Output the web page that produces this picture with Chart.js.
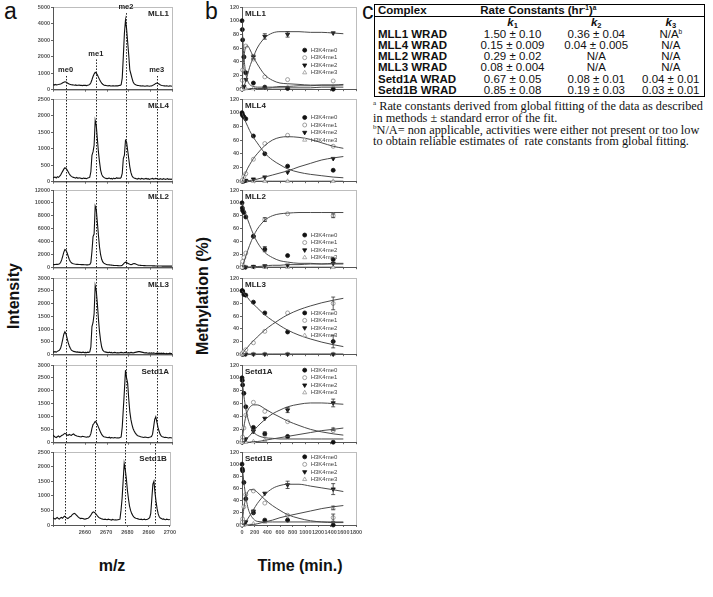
<!DOCTYPE html>
<html>
<head>
<meta charset="utf-8">
<script src="https://cdn.jsdelivr.net/npm/chart.js@4.4.0/dist/chart.umd.min.js"></script>
<style>
  body { margin: 0; background: #fff; width: 713px; height: 597px; position: relative; overflow: hidden;
         font-family: "Liberation Sans", Arial, sans-serif; color: #111; }
  canvas { position: absolute; }
  .txt { position: absolute; white-space: nowrap; }
  .letter { font-size: 23px; line-height: 23px; }
  .axt { font-weight: bold; font-size: 16px; transform: translate(-50%, -50%); }
  .rot { transform: translate(-50%, -50%) rotate(-90deg); }
  #rates { position: absolute; left: 374px; top: 4px; width: 331px; border-collapse: collapse;
           border: 1px solid #000; font-size: 11.5px; line-height: 11.3px; }
  #rates td { padding: 0 3px; white-space: nowrap; text-align: center; }
  #rates td.name { text-align: left; font-weight: bold; }
  #rates tr.hd td { font-weight: bold; border-bottom: 1px solid #000; text-align: left; }
  #rates sup { font-size: 6.5px; line-height: 0; vertical-align: 4px; }
  #rates sub { font-size: 7.5px; line-height: 0; vertical-align: -2px; }
  #notes { position: absolute; left: 373px; top: 101px; font-family: "Liberation Serif", serif;
           font-size: 12.3px; line-height: 11.8px; white-space: nowrap; }
  #notes sup { font-size: 7px; line-height: 0; }
</style>
</head>
<body>

<div class="txt letter" style="left:4px;top:0px;">a</div>
<div class="txt letter" style="left:205px;top:0px;">b</div>
<div class="txt letter" style="left:362px;top:0px;">c</div>
<div class="txt axt rot" style="left:14px;top:296px;">Intensity</div>
<div class="txt axt rot" style="left:203px;top:296px;">Methylation (%)</div>
<div class="txt axt" style="left:112px;top:566px;">m/z</div>
<div class="txt axt" style="left:300px;top:566px;">Time (min.)</div>

<table id="rates"></table>
<div id="notes">
<sup>a</sup> Rate constants derived from global fitting of the data as described<br>
in methods ± standard error of the fit.<br>
<sup>b</sup>N/A= non applicable, activities were either not present or too low<br>
to obtain reliable estimates of &nbsp;rate constants from global fitting.
</div>

<script>
// ---- panel a: mass spectra, m/z 2645..2700 every 0.5 ----
var MZ_START = 2645, MZ_STEP = 0.5;
var PEAK_MZ = [2650.8, 2664.8, 2678.7, 2692.9];
var PEAK_NAMES = ['me0', 'me1', 'me2', 'me3'];
var ENZYMES = ['MLL1', 'MLL4', 'MLL2', 'MLL3', 'Setd1A', 'Setd1B'];
var SPEC_MAX = [5000, 2500, 12000, 3000, 3000, 2500];
var SPEC_STEP = [1000, 500, 2000, 500, 500, 500];

var SPEC_MLL1 = [
  300,280,320,290,300,310,330,350,380,420,
  450,480,460,420,380,340,320,300,290,280,
  270,290,260,270,280,260,270,250,260,270,
  260,250,270,280,320,420,600,800,950,1050,
  1000,900,760,620,500,400,330,290,260,250,
  240,230,250,230,220,240,230,220,230,240,
  230,250,260,300,700,2000,3400,4200,3700,2900,
  2100,1200,950,700,480,360,310,280,260,250,
  240,230,220,230,220,210,220,230,220,210,
  220,230,250,290,330,380,400,380,340,300,
  270,250,240,230,220,230,220,210,230,220,210];
var SPEC_MLL4 = [
  120,130,140,110,150,130,160,200,260,320,
  380,420,400,360,300,240,190,160,140,130,
  120,110,130,100,120,110,100,90,110,100,
  100,90,110,120,140,300,800,900,1100,1850,
  1700,1300,900,600,350,220,160,130,110,100,
  90,100,110,90,100,80,110,90,100,120,
  100,110,100,130,250,700,800,1250,1200,950,
  700,450,280,180,130,110,100,90,80,100,
  90,80,100,90,80,90,100,80,90,70,
  80,90,100,80,90,100,90,80,70,90,
  80,70,90,80,70,80,90,70,80,70,80];
var SPEC_MLL2 = [
  500,480,500,520,510,530,600,800,1200,1800,
  2400,2800,2700,2300,1800,1300,950,750,650,600,
  560,540,520,510,500,490,480,470,470,460,
  450,440,430,450,500,800,2500,4800,5200,9500,
  9000,7000,5000,3200,2000,1300,900,700,600,520,
  480,460,440,420,400,380,360,350,340,330,
  320,310,300,320,380,550,750,850,800,700,
  600,520,480,500,600,650,600,520,450,400,
  380,360,340,330,320,320,310,300,300,300,
  290,290,280,280,280,270,270,270,260,260,
  260,250,250,250,250,240,240,240,240,240,240];
var SPEC_MLL3 = [
  100,110,120,100,130,150,180,250,400,600,
  800,900,820,650,480,350,250,180,150,130,
  120,110,100,110,90,100,80,90,100,80,
  90,80,100,90,110,300,1100,1250,1600,2700,
  2500,2000,1400,900,550,300,180,130,110,100,
  90,80,100,80,90,70,80,90,80,70,
  80,70,80,90,80,70,80,90,80,70,
  80,70,90,80,70,80,90,100,110,120,
  120,110,100,90,80,70,80,70,60,70,
  60,70,60,70,60,50,60,50,60,50,
  60,50,60,50,40,50,40,50,60,50,40];
var SPEC_SETD1A = [
  300,250,220,200,230,260,220,240,280,300,
  330,360,340,300,280,320,300,280,320,340,
  300,280,260,250,240,230,220,250,240,230,
  220,210,230,220,250,350,550,700,750,820,
  780,700,600,500,400,320,260,230,220,210,
  200,190,210,180,200,190,180,200,190,180,
  190,180,200,220,600,1300,2000,2800,2500,2300,
  1700,1200,900,700,550,450,380,320,280,260,
  250,230,220,210,200,220,210,200,190,210,
  220,240,320,600,900,1000,800,600,450,330,
  260,230,220,200,210,200,190,180,200,190,180];
var SPEC_SETD1B = [
  250,220,200,230,260,220,200,240,260,230,
  280,300,260,240,220,250,280,300,350,380,
  400,380,340,300,260,240,220,230,220,210,
  200,210,220,230,260,300,360,420,450,430,
  400,350,300,260,240,220,210,200,190,200,
  190,180,200,190,180,170,190,180,170,180,
  170,180,190,200,500,900,1500,2100,1900,1600,
  1200,900,650,500,400,330,280,250,230,220,
  210,200,190,200,180,190,200,180,190,200,
  220,250,400,900,1400,1500,1100,800,550,380,
  280,240,220,200,210,190,180,200,190,180,190];
var SPECTRA = [SPEC_MLL1, SPEC_MLL4, SPEC_MLL2, SPEC_MLL3, SPEC_SETD1A, SPEC_SETD1B];

// ---- panel b: time courses ----
var SERIES = ['H3K4me0', 'H3K4me1', 'H3K4me2', 'H3K4me3'];
var TIMES = [0, 5, 10, 30, 60, 180, 360, 720, 1440];
var FIT_T = [0, 15, 30, 60, 90, 120, 180, 240, 360, 480, 600, 720, 900, 1080, 1260, 1440, 1600];

var MLL1_PTS = [
  [100, 87, 72, 47, 24, 9, 3, 1, 0],
  [0, 13, 28, 47, 63, 44, 18, 14, 12],
  [0, 0, 1, 4, 14, 47, 77, 80, 82],
  [0, 0, 0, 1, 1, 1, 2, 3, 3]];
var MLL1_ERR = [
  [0,0,0,0,0,0,0,0,0], [0,0,0,0,0,0,0,0,0], [0,0,0,0,0,3,4,4,0], [0,0,0,0,0,0,0,0,0]];
var MLL1_FIT = [
  [100,69,47,23,12,7,4,3,3,3,4,4,5,5,6,6,7],
  [0,29,46,62,63,59,47,37,21,13,9,8,7,6,6,6,6],
  [0,1,4,12,22,32,47,60,75,82,84,84,84,83,83,82,81],
  [0,0,0,0,0,1,1,1,1,2,2,2,2,2,3,3,3]];

var MLL4_PTS = [
  [100, 98, 96, 94, 91, 66, 40, 22, 16],
  [0, 1, 2, 7, 11, 32, 55, 67, 51],
  [0, 0, 0, 0, 1, 3, 6, 13, 33],
  [0, 0, 0, 0, 0, 0, 0, 0, 0]];
var MLL4_ERR = [
  [0,0,0,0,0,0,0,0,0], [0,0,0,0,0,0,0,0,0], [0,0,0,0,0,0,0,0,0], [0,0,0,0,0,0,0,0,0]];
var MLL4_FIT = [
  [100,96,93,86,80,74,64,56,41,31,24,18,13,10,8,6,5],
  [0,3,7,13,19,24,33,40,52,60,64,65,64,61,56,51,48],
  [0,0,0,0,1,1,2,3,6,9,12,15,21,26,31,34,36],
  [0,0,0,0,0,0,0,0,0,0,0,0,0,0,0,0,0]];

var MLL2_PTS = [
  [100, 92, 88, 85, 78, 48, 28, 18, 12],
  [0, 5, 9, 15, 22, 48, 74, 83, 80],
  [0, 0, 0, 0, 0, 1, 2, 3, 6],
  [0, 0, 0, 0, 0, 0, 0, 0, 0]];
var MLL2_ERR = [
  [0,0,0,0,0,0,4,0,0], [0,0,0,0,0,0,3,0,3], [0,0,0,0,0,0,0,0,0], [0,0,0,0,0,0,0,0,0]];
var MLL2_FIT = [
  [100,96,92,83,74,66,51,39,23,15,10,8,6,6,5,5,5],
  [0,4,8,17,26,34,48,59,73,80,83,84,85,85,85,85,85],
  [0,0,0,0,0,0,1,1,2,3,3,4,4,5,5,6,6],
  [0,0,0,0,0,0,0,0,0,0,0,0,0,0,0,0,0]];

var MLL3_PTS = [
  [100, 100, 99, 94, 93, 82, 65, 35, 20],
  [0, 1, 2, 4, 7, 18, 36, 65, 80],
  [0, 0, 0, 0, 0, 0, 0, 0, 0],
  [0, 0, 0, 0, 0, 0, 0, 0, 0]];
var MLL3_ERR = [
  [0,0,0,0,0,0,0,0,10], [0,0,0,0,0,0,0,0,10], [0,0,0,0,0,0,0,0,0], [0,0,0,0,0,0,0,0,0]];
var MLL3_FIT = [
  [100,98,96,92,89,85,79,73,62,53,45,38,30,24,19,15,12],
  [0,2,4,8,11,15,21,27,38,47,55,62,70,76,81,85,88],
  [0,0,0,0,0,0,0,0,0,0,0,0,0,0,0,0,0],
  [0,0,0,0,0,0,0,0,0,0,0,0,0,0,0,0,0]];

var SETD1A_PTS = [
  [100, 96, 89, 76, 55, 23, 13, 9, 0],
  [0, 3, 8, 22, 42, 62, 48, 32, 18],
  [0, 0, 0, 2, 5, 17, 37, 50, 61],
  [0, 0, 0, 0, 0, 1, 3, 8, 20]];
var SETD1A_ERR = [
  [0,0,0,0,0,0,3,0,0], [0,0,0,0,0,0,0,0,0], [0,0,0,0,0,3,0,4,6], [0,0,0,0,0,0,0,0,2]];
var SETD1A_FIT = [
  [100,85,72,52,38,28,16,11,7,6,5,5,5,5,5,5,5],
  [0,13,24,40,49,54,58,58,52,45,39,33,26,20,16,13,11],
  [0,0,1,4,7,10,17,24,35,44,50,55,59,61,61,60,59],
  [0,0,0,0,0,0,1,1,3,5,7,9,12,15,18,20,22]];

var SETD1B_PTS = [
  [100, 92, 89, 70, 43, 20, 8, 8, 0],
  [0, 5, 10, 30, 50, 56, 36, 16, 12],
  [0, 0, 1, 2, 5, 22, 52, 66, 59],
  [0, 0, 0, 0, 1, 2, 5, 10, 28]];
var SETD1B_ERR = [
  [0,0,0,0,0,0,0,0,0], [0,0,0,0,0,0,0,0,6], [0,0,0,0,0,3,0,6,9], [0,0,0,0,0,0,0,0,3]];
var SETD1B_FIT = [
  [100,85,70,47,30,20,10,6,5,5,5,5,5,5,5,5,5],
  [0,15,28,45,54,58,58,54,42,32,24,17,11,7,5,4,4],
  [0,0,2,6,10,15,25,35,50,60,65,67,67,64,61,58,55],
  [0,0,0,0,0,1,1,2,5,8,12,15,19,23,27,30,32]];

var PTS = [MLL1_PTS, MLL4_PTS, MLL2_PTS, MLL3_PTS, SETD1A_PTS, SETD1B_PTS];
var ERRS = [MLL1_ERR, MLL4_ERR, MLL2_ERR, MLL3_ERR, SETD1A_ERR, SETD1B_ERR];
var FITS = [MLL1_FIT, MLL4_FIT, MLL2_FIT, MLL3_FIT, SETD1A_FIT, SETD1B_FIT];

// ---- panel c: table ----
var COMPLEX = ['MLL1 WRAD', 'MLL4 WRAD', 'MLL2 WRAD', 'MLL3 WRAD', 'Setd1A WRAD', 'Setd1B WRAD'];
var K1 = ['1.50 ± 0.10', '0.15 ± 0.009', '0.29 ± 0.02', '0.08 ± 0.004', '0.67 ± 0.05', '0.85 ± 0.08'];
var K2 = ['0.36 ± 0.04', '0.04 ± 0.005', 'N/A', 'N/A', '0.08 ± 0.01', '0.19 ± 0.03'];
var K3 = ['N/A<sup>b</sup>', 'N/A', 'N/A', 'N/A', '0.04 ± 0.01', '0.03 ± 0.01'];

// layout
var PANEL_TOP = [7, 99, 190, 278, 365, 452];
var PANEL_HS = [84, 84, 79, 78, 79, 73];
var GAP = 8;
var LEG_TOP = [57, 93, 50, 65, 112, 112];   // y value of first legend row

Chart.defaults.font.family = '"Liberation Sans", Arial, sans-serif';
Chart.defaults.animation = false;

function addCanvas(left, top, w, h) {
  var c = document.createElement('canvas');
  c.width = w; c.height = h;
  c.style.left = left + 'px'; c.style.top = top + 'px';
  c.style.width = w + 'px'; c.style.height = h + 'px';
  document.body.appendChild(c);
  return c;
}

var framePlugin = {
  id: 'frame',
  beforeDraw: function(chart) {
    var a = chart.chartArea, ctx = chart.ctx;
    ctx.save();
    ctx.strokeStyle = '#bdbdbd';
    ctx.lineWidth = 1;
    ctx.strokeRect(Math.round(a.left) + 0.5, Math.round(a.top) + 0.5,
                   Math.round(a.right - a.left), Math.round(a.bottom - a.top));
    ctx.restore();
  }
};

var notesPlugin = {
  id: 'notes',
  beforeDatasetsDraw: function(chart, args, opts) {
    if (!opts.peaks) return;
    var ctx = chart.ctx, xs = chart.scales.x, ys = chart.scales.y, a = chart.chartArea;
    ctx.save();
    ctx.strokeStyle = '#222';
    ctx.lineWidth = 1;
    ctx.setLineDash([1.5, 1.5]);
    opts.peaks.forEach(function(mz, k) {
      var px = Math.round(xs.getPixelForValue(mz)) + 0.5;
      var y0 = opts.labelAt ? ys.getPixelForValue(opts.labelAt[k]) + 2 : 0;
      ctx.beginPath();
      ctx.moveTo(px, y0);
      ctx.lineTo(px, a.bottom);
      ctx.stroke();
    });
    ctx.restore();
  },
  afterDatasetsDraw: function(chart, args, opts) {
    var ctx = chart.ctx, xs = chart.scales.x, ys = chart.scales.y, a = chart.chartArea;
    ctx.save();
    ctx.fillStyle = '#222';
    ctx.font = 'bold 8px "Liberation Sans", Arial, sans-serif';
    ctx.textBaseline = 'top';
    if (opts.titleRight) {
      ctx.textAlign = 'right';
      ctx.fillText(opts.title, a.right - 3, a.top + 3);
    } else {
      ctx.textAlign = 'left';
      ctx.fillText(opts.title, a.left + 3, a.top + 3);
    }
    if (opts.labelAt) {
      ctx.textAlign = 'center';
      ctx.textBaseline = 'bottom';
      ctx.font = 'bold 7.5px "Liberation Sans", Arial, sans-serif';
      opts.peaks.forEach(function(mz, k) {
        ctx.fillText(PEAK_NAMES[k], xs.getPixelForValue(mz), ys.getPixelForValue(opts.labelAt[k]));
      });
    }
    ctx.restore();
  }
};

var keyPlugin = {
  id: 'keybox',
  afterDatasetsDraw: function(chart, args, opts) {
    if (opts.top == null) return;
    var ctx = chart.ctx, ys = chart.scales.y, a = chart.chartArea;
    var x0 = a.left + (a.right - a.left) * 0.55;
    var y0 = ys.getPixelForValue(opts.top);
    ctx.save();
    ctx.font = '6px "Liberation Sans", Arial, sans-serif';
    ctx.textBaseline = 'middle';
    ctx.textAlign = 'left';
    chart.data.datasets.forEach(function(ds) {
      if (ds.key == null) return;
      var y = y0 + ds.key * 7.5;
      ctx.fillStyle = ds.backgroundColor;
      ctx.strokeStyle = ds.borderColor;
      ctx.lineWidth = 0.8;
      Chart.helpers.drawPoint(ctx, {pointStyle: ds.pointStyle, rotation: ds.rotation || 0,
                                     radius: ds.pointRadius, borderWidth: 0.8}, x0, y);
      ctx.fillStyle = '#444';
      ctx.fillText(ds.label, x0 + 6, y);
    });
    ctx.restore();
  }
};

var errPlugin = {
  id: 'errbars',
  afterDatasetsDraw: function(chart) {
    var ctx = chart.ctx, xs = chart.scales.x, ys = chart.scales.y;
    ctx.save();
    ctx.strokeStyle = '#333';
    ctx.lineWidth = 0.8;
    chart.data.datasets.forEach(function(ds) {
      if (!ds.errors) return;
      ds.data.forEach(function(p, j) {
        var e = ds.errors[j];
        if (!e) return;
        var px = xs.getPixelForValue(p.x);
        var y1 = ys.getPixelForValue(p.y + e), y2 = ys.getPixelForValue(p.y - e);
        ctx.beginPath();
        ctx.moveTo(px, y1); ctx.lineTo(px, y2);
        ctx.moveTo(px - 2, y1); ctx.lineTo(px + 2, y1);
        ctx.moveTo(px - 2, y2); ctx.lineTo(px + 2, y2);
        ctx.stroke();
      });
    });
    ctx.restore();
  }
};

function axisY(width, max, step) {
  return {
    min: 0, max: max,
    afterFit: function(s) { s.width = width; },
    ticks: { stepSize: step, font: { size: 5.5, weight: 'bold' }, color: '#555', padding: 1,
             callback: function(v) { return String(v); } },
    grid: { display: true, drawOnChartArea: false, drawTicks: true, tickLength: 2, color: '#666' },
    border: { display: true, color: '#555', width: 1 }
  };
}

function axisX(min, max, step, showLabels, height) {
  return {
    type: 'linear', min: min, max: max,
    afterFit: function(s) { s.height = height; },
    ticks: {
      display: showLabels, stepSize: step, maxRotation: 0, autoSkip: false,
      font: { size: 5.5, weight: 'bold' }, color: '#555', padding: 2,
      callback: function(v) { return v % step === 0 ? String(v) : ''; }
    },
    grid: { display: true, drawOnChartArea: false, drawTicks: true, tickLength: 2, color: '#666' },
    border: { display: true, color: '#555', width: 1 }
  };
}

// panel a
var MZ = [];
for (var m = 0; m < SPEC_MLL1.length; m++) MZ.push(MZ_START + m * MZ_STEP);

ENZYMES.forEach(function(name, i) {
  var last = i === ENZYMES.length - 1;
  var xh = last ? 14 : 3;
  var cv = addCanvas(18, PANEL_TOP[i] - GAP, 160, GAP + PANEL_HS[i] + xh);
  new Chart(cv, {
    type: 'line',
    data: {
      datasets: [{
        data: SPECTRA[i].map(function(v, j) { return { x: MZ[j], y: v }; }),
        borderColor: '#111', borderWidth: 1.1, pointRadius: 0, tension: 0
      }]
    },
    options: {
      responsive: false, devicePixelRatio: 1,
      layout: { padding: { top: GAP, right: 6, left: 0, bottom: 0 } },
      scales: { x: axisX(2645, 2700, 10, last, xh), y: axisY(35, SPEC_MAX[i], SPEC_STEP[i]) },
      plugins: {
        legend: { display: false }, tooltip: { enabled: false },
        notes: { title: name, titleRight: true, peaks: PEAK_MZ,
                 labelAt: i === 0 ? [950, 1950, 4750, 950] : null }
      }
    },
    plugins: [framePlugin, notesPlugin]
  });
});

// panel b
var STYLE = [
  { pointStyle: 'circle', rotation: 0, bg: '#111', bd: '#111', r: 2 },
  { pointStyle: 'circle', rotation: 0, bg: '#fff', bd: '#888', r: 2 },
  { pointStyle: 'triangle', rotation: 180, bg: '#111', bd: '#111', r: 2.4 },
  { pointStyle: 'triangle', rotation: 0, bg: '#fff', bd: '#999', r: 2.4 }
];

ENZYMES.forEach(function(name, i) {
  var last = i === ENZYMES.length - 1;
  var xh = last ? 14 : 3;
  var ds = [];
  FITS[i].forEach(function(f) {
    ds.push({
      data: FIT_T.map(function(t, j) { return { x: t, y: f[j] }; }),
      showLine: true, pointRadius: 0, borderColor: '#4a4a4a', borderWidth: 1,
      cubicInterpolationMode: 'monotone'
    });
  });
  PTS[i].forEach(function(p, s) {
    var st = STYLE[s];
    ds.push({
      label: SERIES[s], key: s,
      data: TIMES.map(function(t, j) { return { x: t, y: p[j] }; }),
      errors: ERRS[i][s],
      showLine: false, pointStyle: st.pointStyle, rotation: st.rotation,
      pointRadius: st.r, backgroundColor: st.bg, borderColor: st.bd, pointBorderWidth: 0.8,
      clip: 6
    });
  });
  var cv = addCanvas(205, PANEL_TOP[i] - GAP, 160, GAP + PANEL_HS[i] + xh);
  new Chart(cv, {
    type: 'scatter',
    data: { datasets: ds },
    options: {
      responsive: false, devicePixelRatio: 1,
      layout: { padding: { top: GAP, right: 9, left: 0, bottom: 0 } },
      scales: { x: axisX(0, 1800, 200, last, xh), y: axisY(37, 120, 20) },
      plugins: {
        legend: { display: false }, tooltip: { enabled: false },
        notes: { title: name, titleRight: false },
        keybox: { top: LEG_TOP[i] }
      }
    },
    plugins: [framePlugin, notesPlugin, errPlugin, keyPlugin]
  });
});

// panel c
var html = '<colgroup><col style="width:96px"><col style="width:85px"><col style="width:83px"><col style="width:67px"></colgroup>';
html += '<tr class="hd"><td>Complex</td><td colspan="3" style="padding-left:10px">Rate Constants (hr<sup>-1</sup>)<sup>a</sup></td></tr>';
html += '<tr><td></td><td><b><i>k</i><sub>1</sub></b></td><td><b><i>k</i><sub>2</sub></b></td><td><b><i>k</i><sub>3</sub></b></td></tr>';
COMPLEX.forEach(function(c, i) {
  html += '<tr><td class="name">' + c + '</td><td>' + K1[i] + '</td><td>' + K2[i] + '</td><td>' + K3[i] + '</td></tr>';
});
document.getElementById('rates').innerHTML = html;
</script>
</body>
</html>
